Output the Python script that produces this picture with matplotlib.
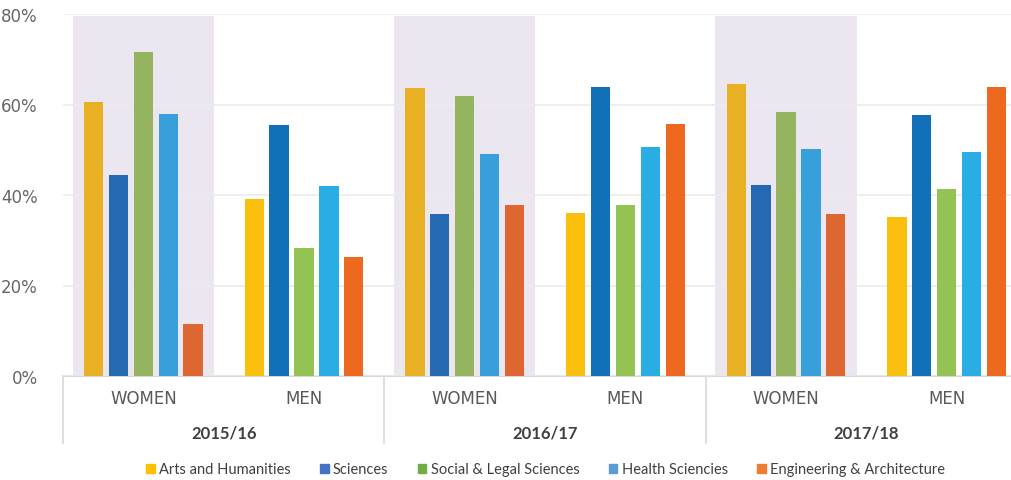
import matplotlib
matplotlib.use("Agg")
import matplotlib.pyplot as plt
from matplotlib.patches import Patch
import numpy as np

years = ["2015/16", "2016/17", "2017/18"]
groups = ["WOMEN", "MEN", "WOMEN", "MEN", "WOMEN", "MEN"]
fields = ["Arts and Humanities", "Sciences", "Social & Legal Sciences",
          "Health Sciencies", "Engineering & Architecture"]

arts = [60.5, 39.1, 63.6, 36.1, 64.6, 35.1]
sciences = [44.4, 55.5, 35.9, 63.8, 42.1, 57.6]
social = [71.5, 28.3, 61.9, 37.9, 58.3, 41.4]
health = [57.8, 41.9, 49.0, 50.7, 50.2, 49.5]
engineering = [11.5, 26.3, 37.9, 55.8, 35.8, 63.8]
series = [arts, sciences, social, health, engineering]

women_colors = ["#E8B023", "#2469B2", "#94B45F", "#37A0DA", "#DE6630"]
men_colors = ["#FBC00E", "#1270B8", "#95C353", "#29ADE3", "#EC691F"]
legend_colors = ["#FFC000", "#4472C4", "#70AD47", "#5B9BD5", "#ED7D31"]

fig = plt.figure(figsize=(10.12, 4.81), dpi=100)
ax = fig.add_axes([63 / 1012, 1 - 377 / 481, 964 / 1012, 362 / 481])

x = np.arange(len(groups))
width = 0.12
step = 0.155

# lavender band behind the women groups
for i in range(0, len(groups), 2):
    ax.axvspan(i - 0.44, i + 0.44, ymin=0, ymax=79.5 / 80, color="#ECE6F1", zorder=0, lw=0)

for k, vals in enumerate(series):
    cols = [women_colors[k] if i % 2 == 0 else men_colors[k] for i in range(len(groups))]
    ax.bar(x + (k - 2) * step, vals, width, color=cols, zorder=3)

ax.set_xlim(-0.5, 5.5)
ax.set_ylim(0, 80)
ax.set_yticks([0, 20, 40, 60, 80])
ax.set_yticklabels(["0%", "20%", "40%", "60%", "80%"], fontsize=12, color="#666666")
ax.yaxis.grid(True, color="#EBEBEB", linewidth=1.2, zorder=1)
ax.set_axisbelow(False)
ax.tick_params(axis="y", length=0, pad=18)
ax.tick_params(axis="x", length=0)
ax.set_xticks([])
for s in ["top", "right", "left"]:
    ax.spines[s].set_visible(False)
ax.spines["bottom"].set_color("#D9D9D9")
ax.spines["bottom"].set_linewidth(1.5)

trans = ax.get_xaxis_transform()
for i, g in enumerate(groups):
    ax.text(i, -0.061, g, transform=trans, ha="center", va="center",
            fontsize=12, color="#595959")
for j, yr in enumerate(years):
    ax.text(2 * j + 0.5, -0.155, yr, transform=trans, ha="center", va="center",
            fontsize=12, fontweight="bold", color="#404040", family="Lato")
for b in [-0.5, 1.5, 3.5, 5.5]:
    ax.plot([b, b], [0, -0.185], transform=trans, color="#D9D9D9", lw=1.2, clip_on=False)

handles = [Patch(color=c, label=f) for c, f in zip(legend_colors, fields)]
fig.legend(handles=handles, loc="center", bbox_to_anchor=(0.539, 0.022), ncol=5,
           frameon=False, handlelength=0.6, handleheight=0.6, handletextpad=0.3,
           columnspacing=2.0, prop={"family": "Lato", "size": 10.5},
           labelcolor="#404040")

fig.savefig("out.png", dpi=100)
